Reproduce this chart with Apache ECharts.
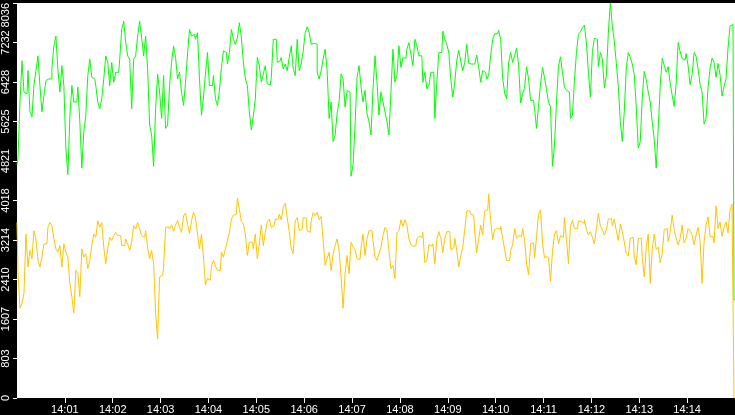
<!DOCTYPE html>
<html>
<head>
<meta charset="utf-8">
<style>
  html, body { margin: 0; padding: 0; background: #000; }
  #main { width: 735px; height: 415px; }
</style>
<script src="https://cdn.jsdelivr.net/npm/echarts@6/dist/echarts.min.js"></script>
</head>
<body>
<div id="main"></div>
<script>
// one sample every 2.5 s, from 14:00:00 to 14:15:00
var step = 2.5;
var timeLabels = ['14:00','14:01','14:02','14:03','14:04','14:05','14:06','14:07',
                  '14:08','14:09','14:10','14:11','14:12','14:13','14:14','14:15'];
var yMax = 8036;

var greenValues = [
  4746, 4880, 6022, 6861, 6223, 6189, 6659, 5820, 5719, 6357,
  6659, 6961, 6357, 5820, 6156, 6458, 6491, 6491, 6693, 7163,
  7364, 6693, 6223, 6760, 6357, 5082, 4545, 5719, 6357, 6022,
  6022, 6324, 5619, 4679, 5417, 5753, 6559, 6894, 6525, 6491,
  6357, 6022, 5887, 6089, 6491, 6961, 6827, 6357, 6827, 6424,
  6626, 6626, 6894, 7498, 7666, 7230, 6961, 6894, 5887, 6894,
  6961, 7364, 7666, 7331, 6961, 7364, 6693, 5552, 5350, 4713,
  5887, 6592, 6223, 5686, 6559, 5485, 5552, 6357, 6827, 7163,
  6928, 6491, 6626, 6223, 5954, 6424, 6995, 7498, 7364, 7398,
  7297,
  7431, 6491, 5753, 6122, 6592, 7028, 6357, 6357, 6559, 6089,
  5954, 6257, 6726, 7062, 7028, 6794, 7028, 7498, 7297, 7196,
  7331, 7633, 7331, 6827, 6491, 6357, 5820, 5451, 5740, 6089,
  6928, 6760, 6424, 6592, 6760, 6391, 6371, 6525, 7297, 7297,
  6827, 6861, 6928, 6693, 6794, 6659, 6928, 7163, 6693, 6559,
  7297, 6659, 6794, 7062, 7431, 7552, 7431, 7196, 7216, 7196,
  6626, 6491, 6659, 6894, 7096, 6659, 5686, 6022, 5216, 5350,
  5787, 6022, 6592, 6491, 5921, 6257, 6223, 4511, 4746, 5552,
  6525, 6760, 6324, 6022, 6257, 5787, 5619, 5350, 6290, 6961,
  6424, 5753, 6223, 6022, 5820, 5619, 5350, 6223, 7096, 6424,
  6559, 7163, 6726, 6928, 6908, 7096, 7230, 6995, 6760, 7297,
  7163, 6961, 6961, 6424, 6626, 6290, 6357, 6626, 6626, 5686,
  6424, 7028, 7028, 7465, 7297, 7196, 7028, 6491, 6122, 6424,
  6861, 7076, 6847, 6659, 6827, 7196, 6807, 6794, 6794, 6773,
  6975, 6726, 6424, 6659, 6626, 6491, 6559, 6961, 7297, 7411,
  7411, 7478, 7297, 6512, 6203, 6089, 6827, 7028, 6827, 6961,
  7116, 6780, 6001, 6189, 6303, 6740, 6491, 6055, 6055, 5887,
  5485, 5954, 6391, 6726, 6512, 6270, 6022, 5921, 4713, 5149,
  6022, 6760, 6941, 6626, 6324, 6257, 6223, 5686, 5753, 6458,
  7028, 7398, 7451, 7532, 7586, 7230, 6626, 6122, 7049, 7317,
  7297, 6740, 7028, 6894, 6310, 6559, 7431, 8036, 7566, 7250,
  6807, 6337, 5619, 5216, 5840, 6713, 7028, 6928, 6794, 6579,
  5907, 5082, 5216, 6109, 6646, 6471, 6223, 6022, 5619, 5263,
  4679, 5485, 6337, 6908, 6773, 6626, 6740, 6404, 6156, 5934,
  6404, 7230, 7042, 6908, 6874, 7008, 6760, 6371, 6579, 7028,
  6948, 6693, 6377, 6223, 5572, 5686, 6310, 6706, 6914, 6827,
  6525, 6807, 6579, 6142, 6337, 6491, 7116, 7566, 7599, 1994
];

var yellowValues = [
  3571, 2531, 1826, 1927, 2128, 3336, 2665, 3001, 2833, 3403,
  3236, 2799, 2665, 2866, 3135, 3135, 3471, 3571, 3504, 3236,
  3034, 2967, 3101, 2665, 3135, 2967, 2866, 2329, 2061, 1725,
  2598, 2531, 2061, 3034, 2866, 2934, 2632, 2799, 3101, 3336,
  3269, 3605, 3471, 3571, 3068, 2732, 3034, 3269, 3202, 3303,
  3370, 3303, 3303, 3101, 3101, 3236, 3135, 3001, 3169, 3504,
  3437, 3571, 3437, 3303, 3269, 3403, 3068, 2833, 3001, 2732,
  1725, 1200, 2464, 2497, 2665, 3471, 3484, 3437, 3524, 3390,
  3524, 3605, 3471, 3370, 3706, 3759, 3538, 3350, 3605, 3773,
  3672,
  3336, 3034, 3336, 2866, 2296, 2430, 2397, 2699, 2799, 2685,
  2598, 2598, 2967, 2866, 3034, 3202, 3370, 3638, 3719, 3739,
  4070, 3840, 3591, 3538, 3336, 2900, 3169, 3169, 3034, 3336,
  2833, 3135, 3518, 3101, 3370, 3585, 3638, 3471, 3504, 3638,
  3638, 3739, 3625, 3887, 3961, 3672, 3383, 3034, 2934, 3605,
  3672, 3403, 3437, 3672, 3659, 3403, 3370, 3605, 3773, 3706,
  3773, 3625, 3692, 3202, 2699, 2833, 2967, 2598, 2934, 3101,
  3236, 3001, 2464, 1826, 2531, 2900, 2531, 3169, 3068, 3021,
  2833, 2819, 3068, 3336, 2900, 3249, 3403, 3403, 3202, 2866,
  2799, 2934, 3068, 3303, 3471, 3403, 3001, 2632, 2699, 2430,
  3357, 3403, 3625, 3491, 3625, 3518, 3236, 3122, 3081, 3101,
  3236, 3289, 3269, 3370, 2752, 2799, 3122, 3088, 3135, 2732,
  3222, 3383, 3249, 2954, 3249, 3383, 3383, 3021, 3048, 3249,
  3001, 2665, 2887, 3068, 3424, 3806, 3806, 3739, 3719, 3383,
  2954, 3249, 3518, 3316, 3806, 3826, 4142, 3605, 3222, 3424,
  3457, 3424, 3491, 3249, 3021, 2799, 2799, 3001, 3115, 3450,
  3249, 3303, 3289, 3450, 3222, 2732, 2511, 3135, 3155, 2846,
  3289, 3739, 3826, 3155, 2846, 2887, 2846, 2376, 2981, 3336,
  3403, 3135, 3303, 3269, 3672, 3202, 2732, 3491, 3618, 3450,
  3450, 3605, 3585, 3551, 3625, 3424, 3316, 3383, 3269, 3135,
  3450, 3759, 3491, 3424, 3316, 3424, 3638, 3652, 3504, 3638,
  3403, 3202, 3538, 3383, 3169, 2934, 2887, 3249, 3269, 2866,
  2712, 3249, 3249, 2866, 2464, 3068, 3336, 2329, 3021, 3336,
  3021, 3068, 2752, 2934, 3424, 3450, 3182, 3383, 3719, 3424,
  3249, 3115, 3249, 3518, 3155, 3249, 3450, 3403, 3316, 3115,
  3316, 3471, 3202, 2329, 3182, 3518, 3685, 3289, 3289, 3155,
  3907, 3450, 3585, 3289, 3471, 3585, 3357, 3826, 3941, 0
];

function toPoints(arr) {
  return arr.map(function(v, i) { return [i * step, v]; });
}

var myChart = echarts.init(document.getElementById('main'));
var option = {
  animation: false,
  backgroundColor: '#000',
  grid: {
    left: 15, right: 0, top: 0, bottom: 16,
    show: true, backgroundColor: '#fff', borderWidth: 0
  },
  xAxis: {
    type: 'value',
    min: 0,
    max: 900,
    interval: 60,
    axisLine: { show: false },
    axisTick: { show: true, length: 5, lineStyle: { color: '#fff', width: 1 } },
    splitLine: { show: false },
    axisLabel: {
      color: '#fff',
      fontFamily: 'Liberation Sans',
      fontSize: 11,
      margin: 6,
      showMinLabel: false,
      showMaxLabel: false,
      formatter: function(v) { return timeLabels[Math.round(v / 60)]; }
    }
  },
  yAxis: {
    type: 'value',
    min: 0,
    max: yMax,
    interval: yMax / 10,
    axisLine: { show: false },
    axisTick: { show: true, length: 4, lineStyle: { color: '#fff', width: 1 } },
    splitLine: { show: false },
    axisLabel: {
      color: '#fff',
      fontFamily: 'Liberation Sans',
      fontSize: 11,
      rotate: 90,
      margin: 6,
      alignMaxLabel: 'right',
      formatter: function(v) { return String(Math.floor(v + 1e-6)); }
    }
  },
  series: [
    {
      type: 'line',
      step: 'middle',
      data: toPoints(greenValues),
      showSymbol: false,
      lineStyle: { color: '#00ff00', width: 1 },
      itemStyle: { color: '#00ff00' }
    },
    {
      type: 'line',
      step: 'middle',
      data: toPoints(yellowValues),
      showSymbol: false,
      lineStyle: { color: '#ffc400', width: 1 },
      itemStyle: { color: '#ffc400' }
    }
  ]
};
myChart.setOption(option);
</script>
</body>
</html>
